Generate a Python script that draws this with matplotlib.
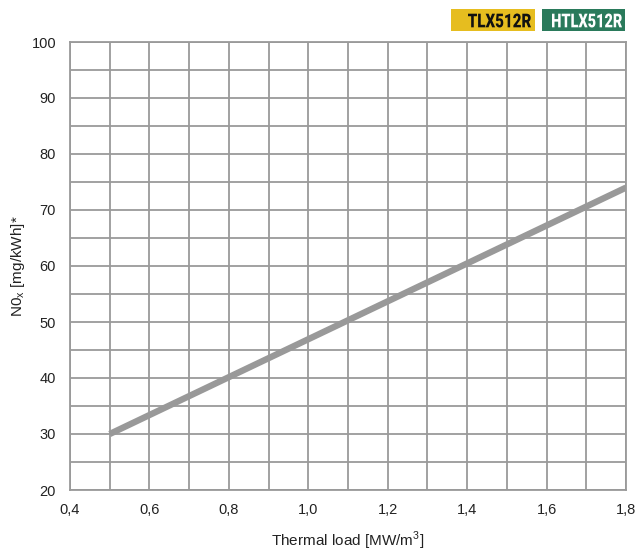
import matplotlib
matplotlib.use("Agg")
import matplotlib.pyplot as plt
from matplotlib.font_manager import FontProperties
from matplotlib.patches import PathPatch, Rectangle
from matplotlib.text import TextPath
from matplotlib.transforms import Affine2D
from matplotlib.ticker import MultipleLocator, FuncFormatter

# Emission curve: NOx vs thermal load
load = [0.5, 1.8]
nox = [30, 74]

x_ticks = [0.4, 0.6, 0.8, 1.0, 1.2, 1.4, 1.6, 1.8]
y_ticks = [20, 30, 40, 50, 60, 70, 80, 90, 100]
badges = ["TLX512R", "HTLX512R"]

plt.rcParams["font.family"] = ["Liberation Sans", "DejaVu Sans"]
plt.rcParams["mathtext.fontset"] = "custom"
plt.rcParams["mathtext.rm"] = "Liberation Sans"

W, H = 635, 551
fig = plt.figure(figsize=(W / 100, H / 100), dpi=100)
ax = fig.add_axes([70 / W, 1 - 490 / H, 556 / W, 448 / H])

grid_c = "#9a9a9a"
ax.set_xlim(0.4, 1.8)
ax.set_ylim(20, 100)
ax.set_xticks(x_ticks)
ax.set_yticks(y_ticks)
ax.xaxis.set_minor_locator(MultipleLocator(0.1))
ax.yaxis.set_minor_locator(MultipleLocator(5))
ax.xaxis.set_major_formatter(FuncFormatter(lambda v, p: f"{v:.1f}".replace(".", ",")))
ax.grid(True, which="both", color=grid_c, linewidth=1.3)
ax.set_axisbelow(True)
for s in ax.spines.values():
    s.set_color(grid_c)
    s.set_linewidth(1.3)
ax.tick_params(which="both", length=0, labelsize=10.5, colors="#222222")
ax.tick_params(axis="x", pad=9)
ax.tick_params(axis="y", pad=10)

ax.plot(load, nox, color="#999999", linewidth=4.6, solid_capstyle="butt", zorder=3)

ax.set_xlabel(r"Thermal load [MW/m$^{\mathregular{3}}$]", fontsize=11, color="#222222", va="center")
ax.set_ylabel(r"N0$_{\mathregular{x}}$ [mg/kWh]*", fontsize=11, color="#222222", va="center")
ax.xaxis.set_label_coords(0.5, (490 - 541) / 448)
ax.yaxis.set_label_coords((18 - 70) / 556, 0.5)


def badge(label, box, text_box, face, ink):
    """Coloured tag with a condensed bold label, given in pixel boxes (x0, x1, top, bottom)."""
    bx0, bx1, bt, bb = box
    fig.add_artist(Rectangle((bx0 / W, 1 - bb / H), (bx1 - bx0) / W, (bb - bt) / H,
                             transform=fig.transFigure, color=face, linewidth=0))
    tx0, tx1, tt, tb = text_box
    path = TextPath((0, 0), label, size=20,
                    prop=FontProperties(family="Roboto", weight="black"))
    ext = path.get_extents()
    tr = (Affine2D()
          .translate(-ext.x0, -ext.y0)
          .scale((tx1 - tx0) / ext.width, (tb - tt) / ext.height)
          .translate(tx0, H - tb))
    fig.add_artist(PathPatch(path, transform=tr, facecolor=ink, edgecolor="none"))


badge(badges[0], (451, 535, 9, 31), (468, 531, 13.5, 27.5), "#e6bd1f", "#111111")
badge(badges[1], (542, 625, 9, 31), (552, 622, 13.5, 27.5), "#2a7a5b", "white")

fig.savefig("out.png", dpi=100)
